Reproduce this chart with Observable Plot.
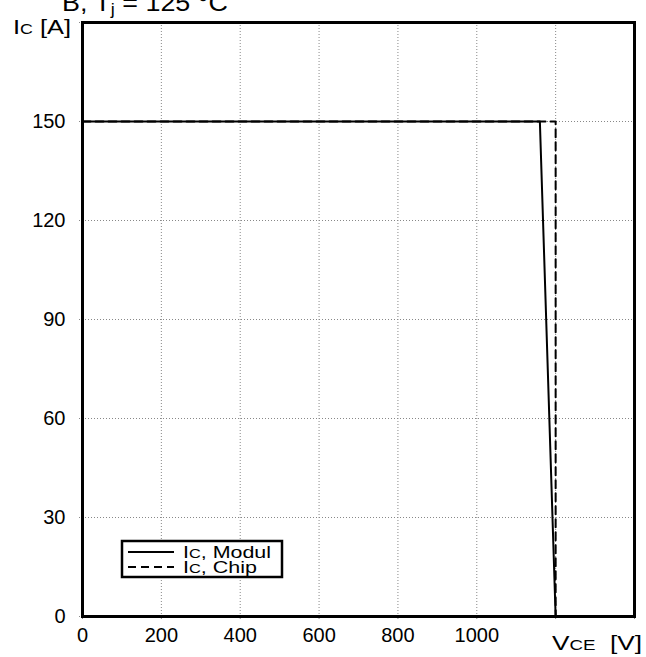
<!DOCTYPE html>
<html>
<head>
<meta charset="utf-8">
<script src="https://cdn.jsdelivr.net/npm/d3@7"></script>
<script src="https://cdn.jsdelivr.net/npm/@observablehq/plot@0.6"></script>
<style>
  html, body { margin: 0; padding: 0; background: #fff; }
  svg { display: block; }
</style>
</head>
<body>
<div id="chart"></div>
<script>
// Data (RBSOA, Tj = 125 °C)
const vceModul = [0, 1160, 1200];
const icModul  = [150, 150, 0];
const vceChip  = [0, 1200, 1200];
const icChip   = [150, 150, 0];
const xTicks = [0, 200, 400, 600, 800, 1000, 1200, 1400];
const xTickLabels = ["0", "200", "400", "600", "800", "1000", "", ""];
const yTicks = [0, 30, 60, 90, 120, 150, 180];
const yTickLabels = ["0", "30", "60", "90", "120", "150", ""];

const modul = vceModul.map((v, i) => ({vce: v, ic: icModul[i]}));
const chip = vceChip.map((v, i) => ({vce: v, ic: icChip[i]}));

const FONT = "'Liberation Sans', Arial, Helvetica, sans-serif";
const W = 646, H = 657;
const ML = 82, MR = 12, MT = 22, MB = 41;

const plot = Plot.plot({
  width: W,
  height: H,
  marginLeft: ML,
  marginRight: MR,
  marginTop: MT,
  marginBottom: MB,
  style: {fontFamily: FONT, fontSize: "20px", color: "#000", background: "#fff"},
  x: {domain: [0, 1400]},
  y: {domain: [0, 180]},
  marks: [
    Plot.gridX(xTicks, {stroke: "#888", strokeOpacity: 1, strokeDasharray: "1,2", strokeWidth: 1}),
    Plot.gridY(yTicks, {stroke: "#888", strokeOpacity: 1, strokeDasharray: "1,2", strokeWidth: 1}),
    Plot.axisX(xTicks, {tickSize: 4, tickPadding: 7, stroke: "#888", strokeDasharray: "1,1",
      tickFormat: (d) => xTickLabels[xTicks.indexOf(d)], label: null, fontSize: 20}),
    Plot.axisY(yTicks, {tickSize: 4, tickPadding: 13, stroke: "#888", strokeDasharray: "1,1",
      tickFormat: (d) => yTickLabels[yTicks.indexOf(d)], label: null, fontSize: 20}),
    Plot.line(modul, {x: "vce", y: "ic", stroke: "#000", strokeWidth: 2}),
    Plot.line(chip, {x: "vce", y: "ic", stroke: "#000", strokeWidth: 2, strokeDasharray: "8,5"}),
    Plot.frame({stroke: "#000", strokeWidth: 3})
  ]
});

document.getElementById("chart").appendChild(plot);

const svg = d3.select(plot);
// make sure tick labels get the larger size
svg.selectAll("g[aria-label$='tick label']").attr("font-size", 20).style("font-size", "20px");
svg.selectAll("g[aria-label$='tick label'] text").attr("font-size", 20).style("font-size", "20px");

function addText(x, y, size, len) {
  const el = svg.append("text").attr("x", x).attr("y", y)
    .attr("text-anchor", "start")
    .attr("font-family", FONT).attr("font-size", size).attr("fill", "#000");
  if (len) el.attr("textLength", len).attr("lengthAdjust", "spacingAndGlyphs");
  return el;
}

// Title (cut off at top in the reference)
const t = addText(62, 11, 24, 166);
t.append("tspan").text("B, T");
t.append("tspan").attr("font-size", 16).attr("dy", 4).text("j");
t.append("tspan").attr("dy", -4).text(" = 125 °C");

// Y axis label
const yl = addText(13, 34, 20, 58);
yl.append("tspan").text("I");
yl.append("tspan").attr("font-size", 14).text("C");
yl.append("tspan").text(" [A]");

// X axis label
const xl = addText(552, 650, 21, 90);
xl.append("tspan").text("V");
xl.append("tspan").attr("font-size", 15).text("CE");
xl.append("tspan").text("  [V]");

// Legend
const lg = svg.append("g");
lg.append("rect").attr("x", 122).attr("y", 541).attr("width", 160).attr("height", 36)
  .attr("fill", "#fff").attr("stroke", "#000").attr("stroke-width", 2.5);
const legendItems = [
  {label: ", Modul", dash: null, y: 552, len: 88},
  {label: ", Chip", dash: "8,5", y: 567, len: 74}
];
legendItems.forEach(it => {
  lg.append("line").attr("x1", 128).attr("x2", 174).attr("y1", it.y).attr("y2", it.y)
    .attr("stroke", "#000").attr("stroke-width", 1.8)
    .attr("stroke-dasharray", it.dash);
  const tx = lg.append("text").attr("x", 183).attr("y", it.y + 6)
    .attr("text-anchor", "start")
    .attr("font-family", FONT).attr("font-size", 17).attr("fill", "#000")
    .attr("textLength", it.len).attr("lengthAdjust", "spacingAndGlyphs");
  tx.append("tspan").text("I");
  tx.append("tspan").attr("font-size", 13).text("C");
  tx.append("tspan").text(it.label);
});
</script>
</body>
</html>
